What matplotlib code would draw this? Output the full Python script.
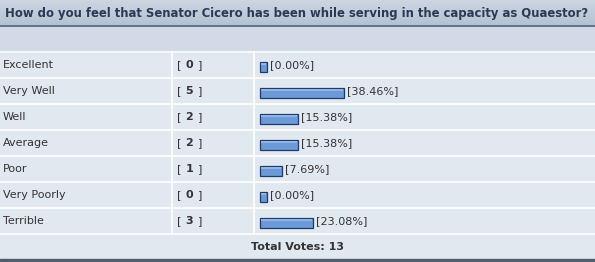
import matplotlib
matplotlib.use("Agg")
import matplotlib.pyplot as plt
from matplotlib.patches import Rectangle
from matplotlib.colors import LinearSegmentedColormap
import numpy as np

title = "How do you feel that Senator Cicero has been while serving in the capacity as Quaestor?"
options = ["Excellent", "Very Well", "Well", "Average", "Poor", "Very Poorly", "Terrible"]
votes = [0, 5, 2, 2, 1, 0, 3]
percents = [0.00, 38.46, 15.38, 15.38, 7.69, 0.00, 23.08]
total_label = "Total Votes: 13"

W, H = 595, 262
fig = plt.figure(figsize=(W / 100, H / 100), dpi=100)
ax = fig.add_axes([0, 0, 1, 1])
ax.set_xlim(0, W)
ax.set_ylim(H, 0)
ax.axis("off")

txt = "#333333"
row_bg = "#e2e8f0"
band_bg = "#d1dae6"

# background
ax.add_patch(Rectangle((0, 0), W, H, color=row_bg, zorder=0))
# title bar gradient
grad = np.linspace(0, 1, 50).reshape(-1, 1)
cm = LinearSegmentedColormap.from_list("g", ["#cdd6e2", "#b4c2d3"])
ax.imshow(grad, cmap=cm, extent=(0, W, 25, 0), aspect="auto", zorder=1)
ax.plot([0, W], [25.5, 25.5], color="#5d7289", lw=1.4, zorder=2)
ax.add_patch(Rectangle((0, 26.5), W, 25.5, color=band_bg, zorder=1))
ax.text(5, 13, title, fontsize=8.4, fontweight="bold", color="#2b3a52",
        va="center", ha="left", zorder=3)

row_top = 52
row_h = 26
n = len(options)
# separators
for i in range(n + 1):
    y = row_top + i * row_h
    ax.plot([0, W], [y, y], color="white", lw=1.2, zorder=2)
for x in (172, 254):
    ax.plot([x, x], [row_top, row_top + n * row_h], color="white", lw=1.2, zorder=2)

centers = [row_top + row_h * (i + 0.5) for i in range(n)]
for i, (opt, v, p) in enumerate(zip(options, votes, percents)):
    cy = centers[i]
    ax.text(3, cy, opt, fontsize=8, color=txt, va="center", ha="left", zorder=3)
    ax.text(177, cy, "[", fontsize=8, color=txt, va="center", ha="left", zorder=3)
    ax.text(189.5, cy, str(v), fontsize=8, fontweight="bold", color=txt,
            va="center", ha="center", zorder=3)
    ax.text(198, cy, "]", fontsize=8, color=txt, va="center", ha="left", zorder=3)

# bars: 2 px per percent plus end caps
px_per_pct = 2.0
cap = 7.0
bar_w = [p * px_per_pct + cap for p in percents]
bar_y = [c + 1.5 for c in centers]
ax.barh(bar_y, bar_w, left=260, height=10, color="#6b9ad6",
        edgecolor="#1f3a6a", linewidth=0.9, zorder=3)
# highlight strip
ax.barh([y - 2.2 for y in bar_y], [w - 2 for w in bar_w], left=261, height=2,
        color="#8fb5e6", linewidth=0, zorder=4)
for y, w, p in zip(centers, bar_w, percents):
    ax.text(260 + w + 3, y, f"[{p:.2f}%]", fontsize=8, color=txt,
            va="center", ha="left", zorder=3)

ty = row_top + n * row_h + 12.5
ax.text(W / 2, ty, total_label, fontsize=8, fontweight="bold", color=txt,
        va="center", ha="center", zorder=3)
ax.add_patch(Rectangle((0, 259), W, 3, color="#4e5d6c", zorder=3))

fig.savefig("out.png", dpi=100)
